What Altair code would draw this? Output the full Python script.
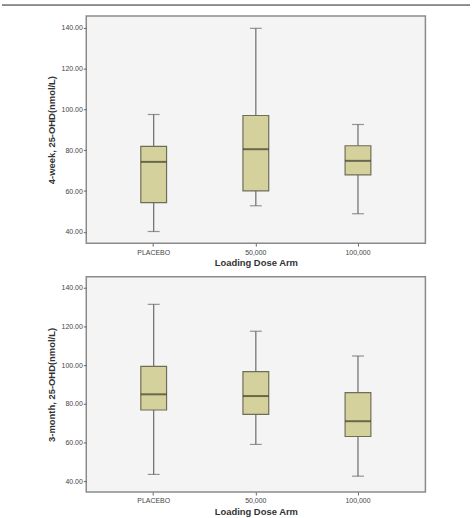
import altair as alt
import pandas as pd

arms = ["PLACEBO", "50,000", "100,000"]

wk4_low = [40.2, 52.8, 48.9]
wk4_q1 = [54.3, 60.1, 67.9]
wk4_med = [74.3, 80.5, 74.8]
wk4_q3 = [81.9, 97.0, 82.2]
wk4_high = [97.5, 139.7, 92.6]

m3_low = [43.6, 59.1, 42.7]
m3_q1 = [76.9, 74.6, 63.2]
m3_med = [85.0, 84.1, 71.1]
m3_q3 = [99.4, 96.7, 85.9]
m3_high = [131.5, 117.6, 104.8]

y_ticks = [40, 60, 80, 100, 120, 140]

FONT = "Liberation Sans"
BOX_FILL = "#d4d19c"
BOX_STROKE = "#6e6e58"
MED = "#3a3a2a"
WHISK = "#6a6a6a"


def panel(low, q1, med, q3, high, ytitle, height, top_line=False):
    df = pd.DataFrame({"arm": arms, "low": low, "q1": q1, "med": med, "q3": q3, "high": high})
    x = alt.X("arm:N", sort=arms,
              scale=alt.Scale(paddingInner=0.2, paddingOuter=0.26),
              axis=alt.Axis(title="Loading Dose Arm", labelAngle=0, labelFontSize=7,
                            labelColor="#444444", labelFont=FONT, tickSize=3, tickColor="#666666",
                            domain=False, labelPadding=2, titleFont=FONT, titleFontSize=9.5,
                            titleFontWeight="bold", titleColor="#333333", titlePadding=3))
    yscale = alt.Scale(domain=[34.5, 145.7], nice=False, zero=False)
    yaxis = alt.Axis(title=ytitle, values=y_ticks, format=".2f", grid=False, labelFontSize=7,
                     labelColor="#444444", labelFont=FONT, tickSize=3, tickColor="#666666",
                     domain=False, labelPadding=1, titleFont=FONT, titleFontSize=9.5,
                     titleFontWeight="bold", titleColor="#333333", titlePadding=5)
    base = alt.Chart(df)
    whisk = base.mark_rule(color=WHISK, strokeWidth=1.2).encode(
        x=x, y=alt.Y("low:Q", scale=yscale, axis=yaxis), y2="high:Q")
    cap_lo = base.mark_tick(color=WHISK, size=12, thickness=1.2).encode(x=x, y="low:Q")
    cap_hi = base.mark_tick(color=WHISK, size=12, thickness=1.2).encode(x=x, y="high:Q")
    box = base.mark_bar(size=26, fill=BOX_FILL, stroke=BOX_STROKE, strokeWidth=1.2).encode(
        x=x, y="q1:Q", y2="q3:Q")
    medt = base.mark_tick(color=MED, size=26, thickness=2).encode(x=x, y="med:Q")
    layers = [whisk, cap_lo, cap_hi, box, medt]
    if top_line:
        line = base.mark_rule(color="#8a8a8a", strokeWidth=1.5).encode(
            x=alt.value(-85), x2=alt.value(387), y=alt.value(-11))
        layers = [line] + layers
    return alt.layer(*layers).properties(width=342, height=height)


top = panel(wk4_low, wk4_q1, wk4_med, wk4_q3, wk4_high, "4-week, 25-OHD(nmol/L)", 229, True)
bottom = panel(m3_low, m3_q1, m3_med, m3_q3, m3_high, "3-month, 25-OHD(nmol/L)", 217)

chart = alt.vconcat(top, bottom, spacing=7).properties(
    padding={"left": 0, "top": 1, "right": 0, "bottom": 0},
    background="white",
).configure_view(fill="#f4f4f4", stroke="#8a8a8a", strokeWidth=1.5)

chart.save("out.html", embed_options={"renderer": "svg", "actions": False})
